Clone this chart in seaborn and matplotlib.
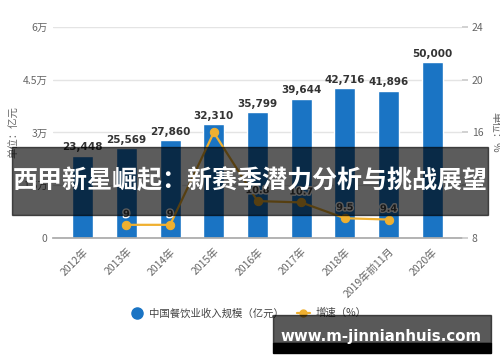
import matplotlib
matplotlib.use("Agg")
import matplotlib.pyplot as plt
import matplotlib.patheffects as pe
from matplotlib.lines import Line2D
from matplotlib.patches import Rectangle
import pandas as pd
import seaborn as sns

# chart data
years = ["2012年", "2013年", "2014年", "2015年", "2016年", "2017年",
         "2018年", "2019年前11月", "2020年"]
revenue = [23448, 25569, 27860, 32310, 35799, 39644, 42716, 41896, 50000]
growth_years = ["2013年", "2014年", "2015年", "2016年", "2017年", "2018年", "2019年前11月"]
growth = [9, 9, 16.0, 10.8, 10.7, 9.5, 9.4]
growth_labels = ["9", "9", "", "10.8", "10.7", "9.5", "9.4"]
left_ticks = [0, 15000, 30000, 45000, 60000]
left_ticklabels = ["0", "1.5万", "3万", "4.5万", "6万"]
right_ticks = [8, 12, 16, 20, 24]

BLUE = "#1a74c4"
GOLD = "#f0b030"
GRAY = "#666666"

sns.set_theme(style="white")
plt.rcParams["font.family"] = ["Noto Sans CJK SC", "DejaVu Sans"]

df_bar = pd.DataFrame({"year": years, "revenue": revenue})
df_line = pd.DataFrame({
    "pos": [years.index(y) for y in growth_years],
    "growth": growth,
})

fig = plt.figure(figsize=(5.0, 3.62), dpi=100)
ax = fig.add_axes([0.106, 0.3425, 0.818, 0.583])

sns.barplot(data=df_bar, x="year", y="revenue", color=BLUE, width=0.48,
            saturation=1, ax=ax, zorder=2)
for i, v in enumerate(revenue):
    ax.text(i, v + 900, f"{v:,}", ha="center", va="bottom", fontsize=7.5,
            fontweight="bold", color="#333333", family="DejaVu Sans")

ax.set_xlim(-0.68, len(years) - 1 + 0.68)
ax.set_ylim(0, 60000)
ax.set_yticks(left_ticks)
ax.set_yticklabels(left_ticklabels, fontsize=7.5, color=GRAY)
ax.yaxis.grid(True, color="#e4e4e4", linewidth=1)
ax.set_axisbelow(True)
ax.set_xlabel("")
ax.set_ylabel("单位：亿元", fontsize=7.5, color=GRAY, labelpad=2)
ax.tick_params(axis="y", length=0, pad=4)
ax.tick_params(axis="x", length=4, color="#aaaaaa", pad=2)
for s in ["top", "right", "left"]:
    ax.spines[s].set_visible(False)
ax.spines["bottom"].set_color("#aaaaaa")
plt.setp(ax.get_xticklabels(), rotation=45, ha="right", rotation_mode="anchor",
         fontsize=7.5, color=GRAY)

ax2 = ax.twinx()
sns.lineplot(data=df_line, x="pos", y="growth", color=GOLD, linewidth=1.6,
             marker="o", markersize=6, markeredgecolor=GOLD, ax=ax2)
for p, g, lab in zip(df_line["pos"], growth, growth_labels):
    if lab:
        ax2.text(p, g + 0.45, lab, ha="center", va="bottom", fontsize=7,
                 fontweight="bold", color="#444444", family="DejaVu Sans",
                 path_effects=[pe.withStroke(linewidth=2, foreground="white")])
ax2.set_ylim(8, 24)
ax2.set_yticks(right_ticks)
ax2.set_yticklabels([str(t) for t in right_ticks], fontsize=7.5, color=GRAY)
ax2.tick_params(axis="y", length=4, color="#cccccc", pad=3)
ax2.set_ylabel("单位：%", fontsize=7.5, color=GRAY, rotation=270, labelpad=12)
ax2.set_xlabel("")
for s in ax2.spines.values():
    s.set_visible(False)

handles = [
    Line2D([], [], linestyle="none", marker="o", markersize=8,
           markerfacecolor=BLUE, markeredgecolor=BLUE),
    Line2D([], [], color=GOLD, linewidth=1.6, marker="o", markersize=5),
]
fig.legend(handles, ["中国餐饮业收入规模（亿元）", "增速（%）"], loc="center",
           bbox_to_anchor=(0.497, 0.135), ncol=2, frameon=False, fontsize=7.5,
           handlelength=1.3, handletextpad=0.5, columnspacing=1.2,
           labelcolor="#444444")

# overlay banner and watermark strip seen on the reference
fig.patches.append(Rectangle((0.024, 1 - 215 / 362), 0.952, 68 / 362,
                             transform=fig.transFigure, color="black",
                             alpha=0.64, zorder=10))
fig.text(0.5, 1 - 181 / 362, "西甲新星崛起：新赛季潜力分析与挑战展望",
         ha="center", va="center", fontsize=18, fontweight="bold",
         color="white", zorder=11)
fig.patches.append(Rectangle((0.546, 1 - 343 / 362), 0.436, 28 / 362,
                             transform=fig.transFigure, color="black",
                             alpha=0.65, zorder=10))
fig.patches.append(Rectangle((0.546, 1 - 353 / 362), 0.436, 10 / 362,
                             transform=fig.transFigure, color="black",
                             zorder=10))
fig.text(0.763, 1 - 336 / 362, "www.m-jinnianhuis.com", ha="center",
         va="center", fontsize=10.8, fontweight="bold", color="white",
         family="DejaVu Sans", zorder=11)

fig.savefig("out.png", dpi=100)
